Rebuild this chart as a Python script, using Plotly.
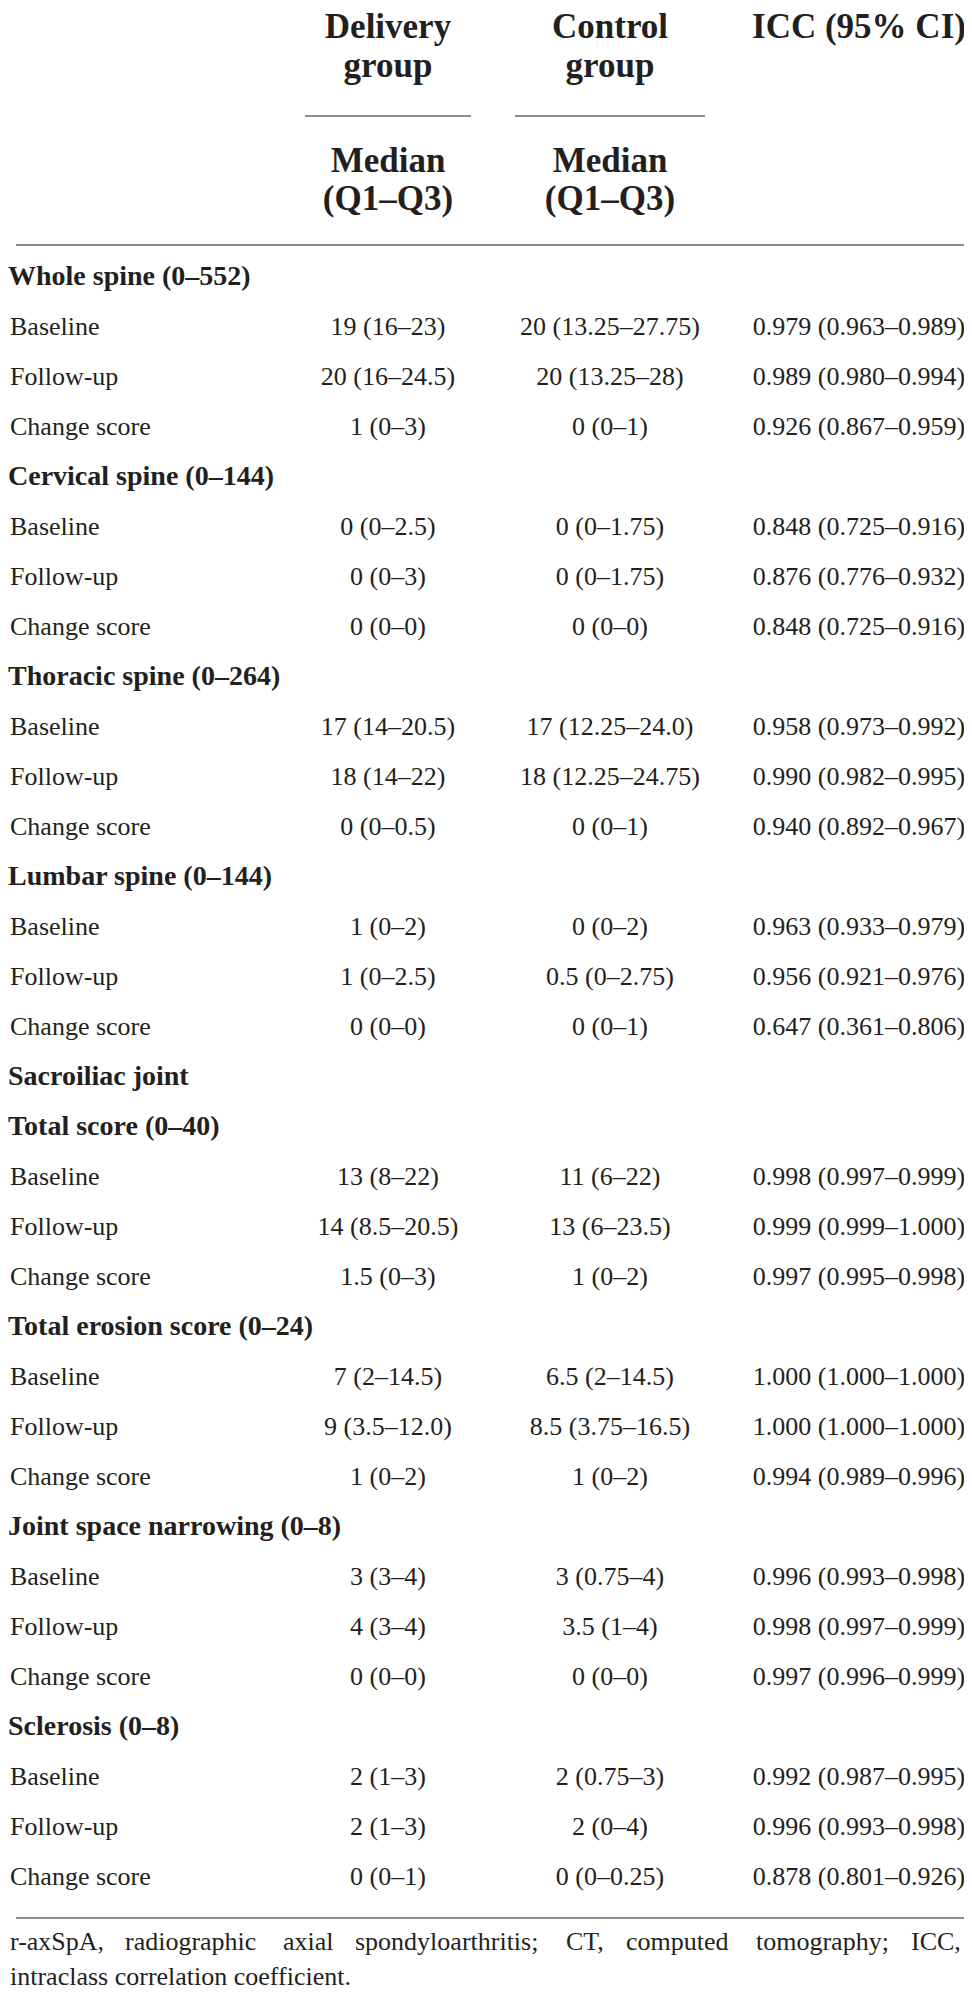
import plotly.graph_objects as go

# ─── table data ──────────────────────────────────────────
row_labels = [
    "Whole spine (0–552)", "Baseline", "Follow-up", "Change score",
    "Cervical spine (0–144)", "Baseline", "Follow-up", "Change score",
    "Thoracic spine (0–264)", "Baseline", "Follow-up", "Change score",
    "Lumbar spine (0–144)", "Baseline", "Follow-up", "Change score",
    "Sacroiliac joint",
    "Total score (0–40)", "Baseline", "Follow-up", "Change score",
    "Total erosion score (0–24)", "Baseline", "Follow-up", "Change score",
    "Joint space narrowing (0–8)", "Baseline", "Follow-up", "Change score",
    "Sclerosis (0–8)", "Baseline", "Follow-up", "Change score",
]
section_rows = [0, 4, 8, 12, 16, 17, 21, 25, 29]

delivery = [
    "", "19 (16–23)", "20 (16–24.5)", "1 (0–3)",
    "", "0 (0–2.5)", "0 (0–3)", "0 (0–0)",
    "", "17 (14–20.5)", "18 (14–22)", "0 (0–0.5)",
    "", "1 (0–2)", "1 (0–2.5)", "0 (0–0)",
    "",
    "", "13 (8–22)", "14 (8.5–20.5)", "1.5 (0–3)",
    "", "7 (2–14.5)", "9 (3.5–12.0)", "1 (0–2)",
    "", "3 (3–4)", "4 (3–4)", "0 (0–0)",
    "", "2 (1–3)", "2 (1–3)", "0 (0–1)",
]
control = [
    "", "20 (13.25–27.75)", "20 (13.25–28)", "0 (0–1)",
    "", "0 (0–1.75)", "0 (0–1.75)", "0 (0–0)",
    "", "17 (12.25–24.0)", "18 (12.25–24.75)", "0 (0–1)",
    "", "0 (0–2)", "0.5 (0–2.75)", "0 (0–1)",
    "",
    "", "11 (6–22)", "13 (6–23.5)", "1 (0–2)",
    "", "6.5 (2–14.5)", "8.5 (3.75–16.5)", "1 (0–2)",
    "", "3 (0.75–4)", "3.5 (1–4)", "0 (0–0)",
    "", "2 (0.75–3)", "2 (0–4)", "0 (0–0.25)",
]
icc = [
    "", "0.979 (0.963–0.989)", "0.989 (0.980–0.994)", "0.926 (0.867–0.959)",
    "", "0.848 (0.725–0.916)", "0.876 (0.776–0.932)", "0.848 (0.725–0.916)",
    "", "0.958 (0.973–0.992)", "0.990 (0.982–0.995)", "0.940 (0.892–0.967)",
    "", "0.963 (0.933–0.979)", "0.956 (0.921–0.976)", "0.647 (0.361–0.806)",
    "",
    "", "0.998 (0.997–0.999)", "0.999 (0.999–1.000)", "0.997 (0.995–0.998)",
    "", "1.000 (1.000–1.000)", "1.000 (1.000–1.000)", "0.994 (0.989–0.996)",
    "", "0.996 (0.993–0.998)", "0.998 (0.997–0.999)", "0.997 (0.996–0.999)",
    "", "0.992 (0.987–0.995)", "0.996 (0.993–0.998)", "0.878 (0.801–0.926)",
]

group_headers = [["Delivery", "group"], ["Control", "group"], ["ICC (95% CI)"]]
sub_headers = [["Median", "(Q1–Q3)"], ["Median", "(Q1–Q3)"], []]

footnote_line1 = ["r-axSpA,", "radiographic", "axial", "spondyloarthritis;",
                  "CT,", "computed", "tomography;", "ICC,"]
footnote_line2 = "intraclass correlation coefficient."

# ─── layout constants (pixels) ──────────────────────────────
W, H = 972, 1998
FONT = "Liberation Serif"
INK = "#231f20"
RULE = "#8c8c8c"
BODY, SECT, HEAD = 26, 28, 35
MID = 0.35                      # plotly baseline shift for 'middle' text, in em
PAD = 8                         # gap plotly leaves for 'middle right' text
COL_X = [380, 602, 851]
SECT_X, LABEL_X = 8, 10         # left edge of section / row label text
ROW0, ROW_H = 280, 50.0         # baseline of first body row, row pitch
HEAD_BASE = [33, 72]
SUB_BASE = [167, 205]
UNDER_Y, UNDER_SPANS = 108, [(297, 463), (507, 697)]
TOP_RULE, BOT_RULE, RULE_X = 237, 1910, (8, 966)
FOOT_BASE = [1945, 1980]
FOOT_X = [10, 125, 283, 355, 566, 626, 756, 911]   # justified word starts


def cy(base, size):
    return base - MID * size


fig = go.Figure()

# header lines
hx, hy, ht = [], [], []
for c, lines in enumerate(group_headers):
    for k, t in enumerate(lines):
        hx.append(COL_X[c]); hy.append(cy(HEAD_BASE[k], HEAD)); ht.append(t)
for c, lines in enumerate(sub_headers):
    for k, t in enumerate(lines):
        hx.append(COL_X[c]); hy.append(cy(SUB_BASE[k], HEAD)); ht.append(t)
fig.add_trace(go.Scatter(
    x=hx, y=hy, text=ht, mode="text", textposition="middle center",
    textfont=dict(family=FONT, size=HEAD, color=INK, weight="bold"),
    hoverinfo="skip"
))

# row labels: bold section headers + plain sub-rows
fig.add_trace(go.Scatter(
    x=[SECT_X - PAD] * len(section_rows),
    y=[cy(ROW0 + i * ROW_H, SECT) for i in section_rows],
    text=[row_labels[i] for i in section_rows],
    mode="text", textposition="middle right", cliponaxis=False,
    textfont=dict(family=FONT, size=SECT, color=INK, weight="bold"),
    hoverinfo="skip"
))
sub_idx = [i for i in range(len(row_labels)) if i not in section_rows]
fig.add_trace(go.Scatter(
    x=[LABEL_X - PAD] * len(sub_idx),
    y=[cy(ROW0 + i * ROW_H, BODY) for i in sub_idx],
    text=[row_labels[i] for i in sub_idx],
    mode="text", textposition="middle right", cliponaxis=False,
    textfont=dict(family=FONT, size=BODY, color=INK),
    hoverinfo="skip"
))

# value columns
for c, col in enumerate([delivery, control, icc]):
    idx = [i for i, v in enumerate(col) if v]
    fig.add_trace(go.Scatter(
        x=[COL_X[c]] * len(idx), y=[cy(ROW0 + i * ROW_H, BODY) for i in idx],
        text=[col[i] for i in idx],
        mode="text", textposition="middle center",
        textfont=dict(family=FONT, size=BODY, color=INK),
        hoverinfo="skip"
    ))

# footnote (first line justified word by word)
fig.add_trace(go.Scatter(
    x=[x - PAD for x in FOOT_X], y=[cy(FOOT_BASE[0], BODY)] * len(footnote_line1),
    text=footnote_line1, mode="text", textposition="middle right", cliponaxis=False,
    textfont=dict(family=FONT, size=BODY, color=INK), hoverinfo="skip"
))
fig.add_trace(go.Scatter(
    x=[FOOT_X[0] - PAD], y=[cy(FOOT_BASE[1], BODY)], text=[footnote_line2],
    mode="text", textposition="middle right", cliponaxis=False,
    textfont=dict(family=FONT, size=BODY, color=INK), hoverinfo="skip"
))

# rules
shapes = []
for x0, x1 in UNDER_SPANS:
    shapes.append(dict(type="line", xref="x", yref="y", x0=x0, x1=x1,
                       y0=UNDER_Y, y1=UNDER_Y, line=dict(color=RULE, width=2)))
for yy in (TOP_RULE, BOT_RULE):
    shapes.append(dict(type="line", xref="x", yref="y", x0=RULE_X[0], x1=RULE_X[1],
                       y0=yy, y1=yy, line=dict(color=RULE, width=2)))

fig.update_layout(
    width=W, height=H, showlegend=False,
    paper_bgcolor="white", plot_bgcolor="white",
    margin=dict(t=0, b=0, l=0, r=0),
    xaxis=dict(range=[0, W], visible=False, fixedrange=True),
    yaxis=dict(range=[H, 0], visible=False, fixedrange=True),
    shapes=shapes,
)

fig.write_html("out.html", config={"displayModeBar": False})
